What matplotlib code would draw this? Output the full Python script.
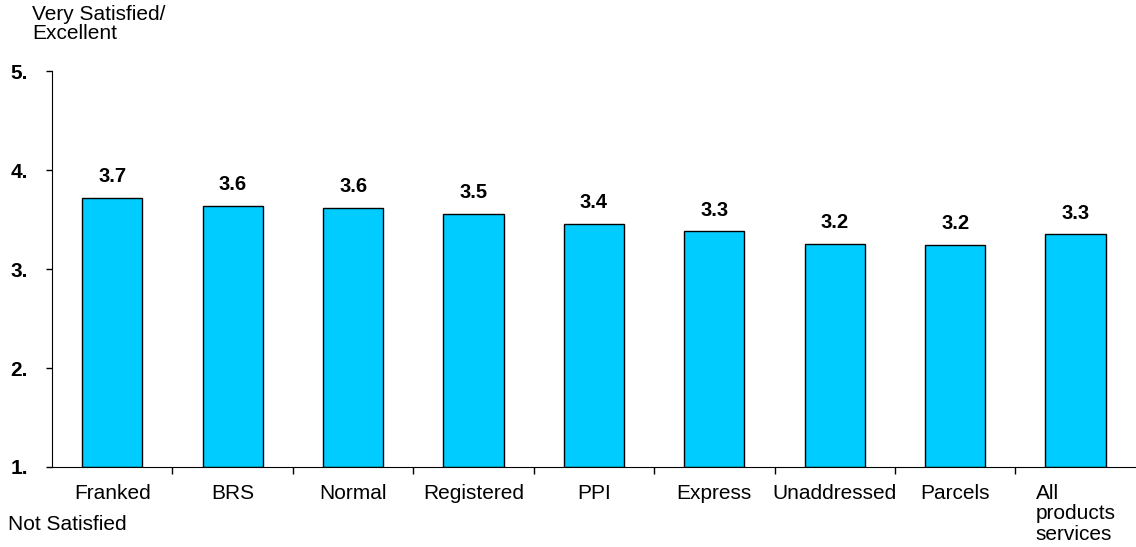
import matplotlib.pyplot as plt
import numpy as np

plt.rcParams['font.family'] = ['Liberation Sans', 'DejaVu Sans']

categories = ["Franked", "BRS", "Normal", "Registered", "PPI", "Express",
              "Unaddressed", "Parcels", "All\nproducts\nservices"]
scores = [3.72, 3.64, 3.62, 3.56, 3.46, 3.38, 3.25, 3.24, 3.35]
score_labels = ["3.7", "3.6", "3.6", "3.5", "3.4", "3.3", "3.2", "3.2", "3.3"]
y_ticks = [1, 2, 3, 4, 5]
y_tick_labels = ["1.", "2.", "3.", "4.", "5."]

fig = plt.figure(figsize=(11.36, 5.47), dpi=100)
ax = fig.add_axes([0.0458, 0.1463, 0.954, 0.7237])

x = np.arange(len(categories))
ax.bar(x, [s - 1 for s in scores], bottom=1, width=0.5, color='#00CCFF',
       edgecolor='black', linewidth=1)

for xi, s, lab in zip(x, scores, score_labels):
    ax.text(xi, s + 0.12, lab, ha='center', va='bottom', fontsize=14.5,
            fontweight='bold')

ax.set_xlim(-0.5, len(categories) - 0.5)
ax.set_ylim(1, 5)
ax.set_yticks(y_ticks)
ax.set_yticklabels(y_tick_labels, fontsize=15, fontweight='bold')
ax.tick_params(axis='y', length=4.5, width=1, pad=13)

ax.set_xticks(x)
ax.set_xticklabels(categories, fontsize=15, va='top', linespacing=1.1)
ax.get_xticklabels()[-1].set_multialignment('left')
ax.get_xticklabels()[-1].set_x(x[-1] + 0.05)
ax.tick_params(axis='x', which='major', length=0, pad=12)
ax.set_xticks(np.arange(0.5, len(categories) - 0.5), minor=True)
ax.tick_params(axis='x', which='minor', length=5, width=1)

ax.spines['top'].set_visible(False)
ax.spines['right'].set_visible(False)

fig.text(32 / 1136, 1 - 5 / 547, "Very Satisfied/\nExcellent", ha='left', va='top',
         fontsize=15, linespacing=1.0)
fig.text(8 / 1136, 1 - 525 / 547, "Not Satisfied", ha='left', va='center',
         fontsize=15)

fig.savefig("out.png", dpi=100)
